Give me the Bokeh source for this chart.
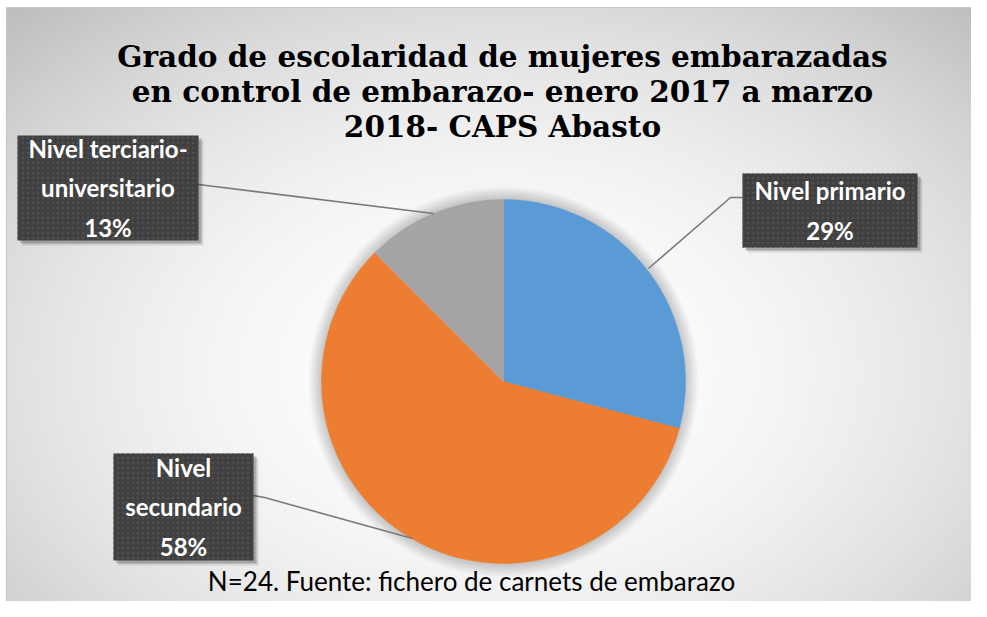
import numpy as np
from bokeh.plotting import figure
from bokeh.models import Range1d
from bokeh.core.properties import value
from bokeh.embed import file_html
from bokeh.resources import INLINE

# ---- data ----
categories = ["Nivel primario", "Nivel secundario", "Nivel terciario-universitario"]
counts = [7, 14, 3]
label_lines = [["Nivel primario"], ["Nivel", "secundario"], ["Nivel terciario-", "universitario"]]
colors = ["#5B9BD5", "#ED7D31", "#A5A5A5"]
title_lines = ["Grado de escolaridad de mujeres embarazadas",
               "en control de embarazo- enero 2017 a marzo",
               "2018- CAPS Abasto"]
footnote = "N=24. Fuente: fichero de carnets de embarazo"

W, H = 971, 601


def X(sx):
    return sx


def Y(sy):
    return H - sy


p = figure(width=W, height=H, x_range=Range1d(0, W), y_range=Range1d(0, H),
           output_backend="svg", toolbar_location=None, min_border=0)
p.axis.visible = False
p.grid.visible = False
p.outline_line_color = None
p.background_fill_color = "white"
p.border_fill_color = "white"

# chart area with radial background gradient
CX0, CY0 = 6, 7
h2, w2 = H - CY0, W - CX0
yy, xx = np.mgrid[0:h2, 0:w2]
sxg = xx + CX0
syg = H - yy
r2 = ((sxg - 497) / 520.0) ** 2 + ((syg - 370) / 360.0) ** 2
g = np.clip(255 - 35 * r2, 0, 255).astype(np.uint32)
img = (np.uint32(255) << 24) | (g << 16) | (g << 8) | g
p.image_rgba(image=[img], x=X(CX0), y=0, dw=w2, dh=h2)
p.multi_line(xs=[[X(CX0), X(CX0), X(W)]], ys=[[0, Y(CY0), Y(CY0)]],
             line_color="#c8c8c8", line_width=1.2)

# pie
total = sum(counts)
fr = np.array(counts, dtype=float) / total
cum = np.concatenate([[0.0], np.cumsum(fr)])
start = np.pi / 2 - 2 * np.pi * cum[:-1]
end = np.pi / 2 - 2 * np.pi * cum[1:]
cx, cy, R = X(503), Y(381), 182

for k in range(1, 11):
    p.circle(x=cx, y=cy, radius=R + k * 1.3, fill_color="black", fill_alpha=0.018, line_color=None)

p.wedge(x=cx, y=cy, radius=R, start_angle=start, end_angle=end, direction="clock",
        fill_color=colors, line_color=colors, line_width=0.5)

# labels
pcts = [f"{int(f * 100 + 0.5)}%" for f in fr]
texts = ["\n".join(lines + [pc]) for lines, pc in zip(label_lines, pcts)]
boxes = [(742, 173, 917, 247), (113, 453, 253, 560), (17, 135, 198, 240)]
leaders = [[(648, 268), (730, 197), (742, 197)],
           [(412, 538), (264, 497), (253, 495)],
           [(433, 213), (198, 184)]]

p.multi_line(xs=[[X(a) for a, b in ln] for ln in leaders],
             ys=[[Y(b) for a, b in ln] for ln in leaders],
             line_color="#7a7a7a", line_width=1.6)

for off, alpha in [(5, 0.10), (3, 0.22)]:
    p.quad(left=[X(b[0]) + off for b in boxes], right=[X(b[2]) + off for b in boxes],
           top=[Y(b[1]) - off for b in boxes], bottom=[Y(b[3]) - off for b in boxes],
           fill_color="black", fill_alpha=alpha, line_color=None)

p.quad(left=[X(b[0]) for b in boxes], right=[X(b[2]) for b in boxes],
       top=[Y(b[1]) for b in boxes], bottom=[Y(b[3]) for b in boxes],
       fill_color="#404040", line_color=None,
       hatch_pattern="dot", hatch_color="#505050", hatch_scale=5, hatch_weight=1.0)

p.text(x=[X((b[0] + b[2]) / 2) for b in boxes], y=[Y((b[1] + b[3]) / 2) for b in boxes],
       text=texts, text_font=value("Lato"), text_font_style="bold", text_font_size="24px",
       text_color="white", text_align="center", text_baseline="middle", text_line_height=1.35)

# title
title_base = [56, 91, 126]
p.text(x=[X(502)] * 3, y=[Y(b) for b in title_base], text=title_lines,
       text_font=value("DejaVu Serif"), text_font_style="bold", text_font_size="29.5px",
       text_color="black", text_align="center", text_baseline="alphabetic")

# footnote
p.text(x=[X(471)], y=[Y(580)], text=[footnote], text_font=value("Lato"),
       text_font_size="26px", text_color="black", text_align="center", text_baseline="middle")

open("out.html", "w").write(file_html(p, INLINE))
